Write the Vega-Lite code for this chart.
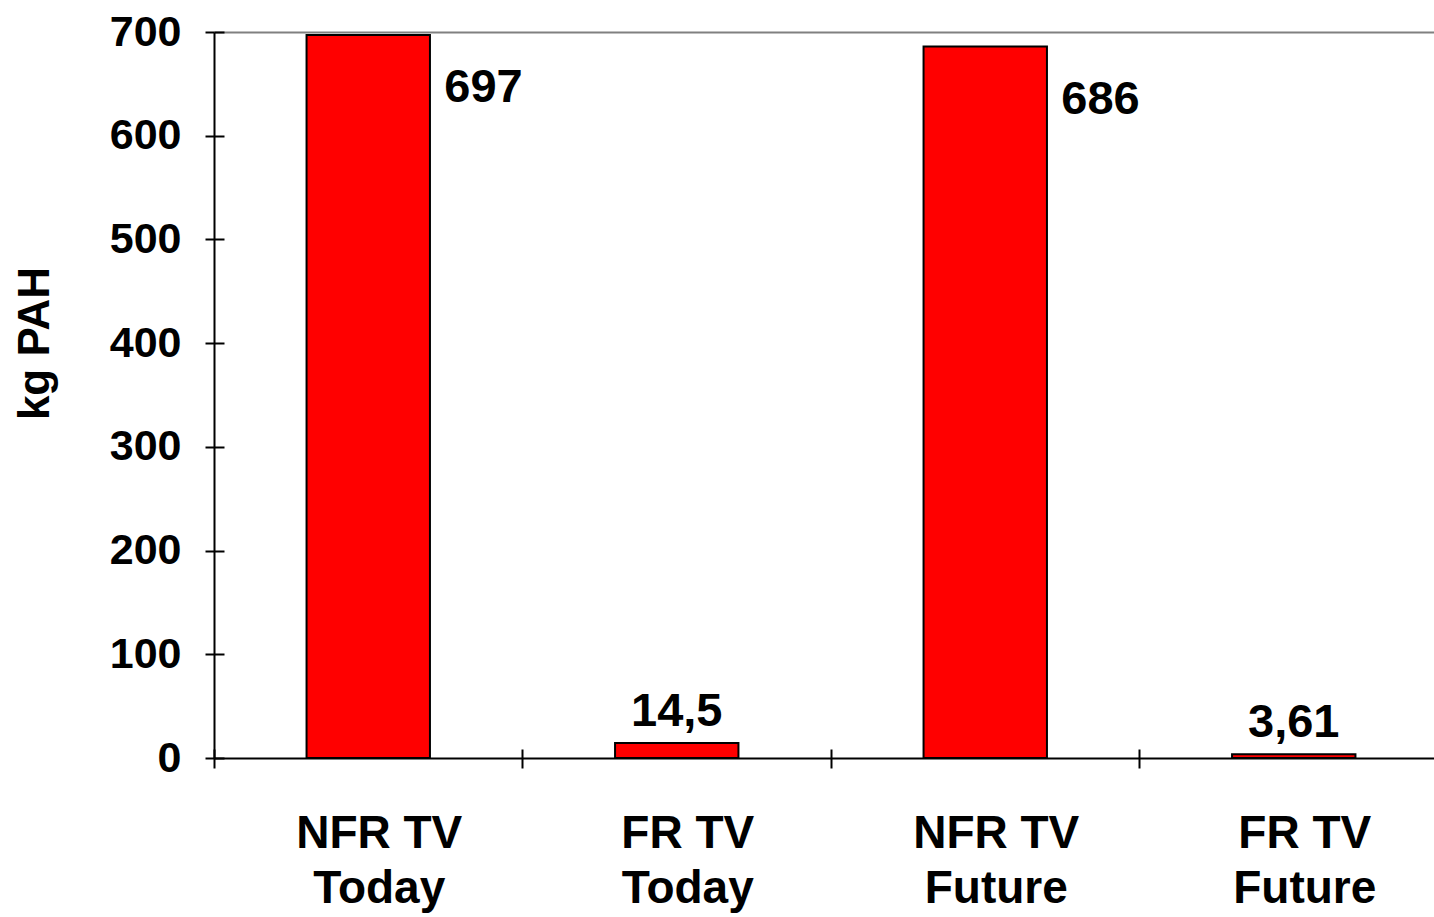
{
  "$schema": "https://vega.github.io/schema/vega-lite/v6.json",
  "width": 1220,
  "height": 726,
  "autosize": {"type": "none"},
  "padding": {"left": 214, "top": 32, "right": 0, "bottom": 159},
  "background": "white",
  "config": {"view": {"stroke": null}, "font": "Liberation Sans"},
  "data": {"values": [
    {"cat": "NFR TV|Today", "value": 697, "label": "697"},
    {"cat": "FR TV|Today", "value": 14.5, "label": "14,5"},
    {"cat": "NFR TV|Future", "value": 686, "label": "686"},
    {"cat": "FR TV|Future", "value": 3.61, "label": "3,61"}
  ]},
  "resolve": {"axis": {"x": "independent", "y": "independent"}},
  "layer": [
    {
      "mark": {"type": "bar", "color": "#FF0000", "stroke": "black", "strokeWidth": 2, "width": {"band": 0.4}},
      "encoding": {
        "x": {
          "field": "cat", "type": "nominal", "sort": null,
          "scale": {"range": [0, 1234], "paddingInner": 0, "paddingOuter": 0},
          "axis": {
            "orient": "bottom", "title": null, "ticks": false, "domain": true,
            "domainColor": "black", "domainWidth": 2,
            "labelExpr": "split(datum.value, '|')", "labelAngle": 0,
            "labelFont": "Liberation Sans", "labelFontWeight": "bold", "labelFontSize": 46,
            "labelColor": "black", "labelPadding": 53, "labelLineHeight": 55,
            "labelOffset": 11, "labelBaseline": "top"
          }
        },
        "y": {
          "field": "value", "type": "quantitative",
          "scale": {"domain": [0, 700], "nice": false},
          "axis": {
            "orient": "left", "values": [0, 100, 200, 300, 400, 500, 600, 700],
            "grid": false, "title": "kg PAH",
            "titleFont": "Liberation Sans", "titleFontSize": 44, "titleFontWeight": "bold",
            "titleColor": "black", "titlePadding": 52, "titleY": 311,
            "labelFont": "Liberation Sans", "labelFontSize": 43, "labelFontWeight": "bold",
            "labelColor": "black", "labelPadding": 24,
            "tickSize": 9, "tickWidth": 2, "tickColor": "black",
            "domainColor": "black", "domainWidth": 2
          }
        }
      }
    },
    {
      "transform": [{"filter": "datum.value > 100"}],
      "mark": {"type": "text", "align": "left", "baseline": "alphabetic", "dx": 76, "dy": 67,
        "font": "Liberation Sans", "fontSize": 47, "fontWeight": "bold", "color": "black"},
      "encoding": {
        "x": {
          "field": "cat", "type": "nominal", "sort": null,
          "axis": {
            "orient": "bottom", "title": null, "labels": false, "domain": false,
            "ticks": true, "tickSize": 10, "tickWidth": 2, "tickColor": "black", "bandPosition": 0
          }
        },
        "y": {
          "field": "value", "type": "quantitative",
          "axis": {
            "orient": "left", "values": [0, 100, 200, 300, 400, 500, 600, 700],
            "title": null, "labels": false, "domain": false, "grid": false,
            "ticks": true, "tickSize": -10, "tickWidth": 2, "tickColor": "black"
          }
        },
        "text": {"field": "label"}
      }
    },
    {
      "transform": [{"filter": "datum.value < 100"}],
      "mark": {"type": "text", "align": "center", "baseline": "alphabetic", "dy": -17,
        "font": "Liberation Sans", "fontSize": 47, "fontWeight": "bold", "color": "black"},
      "encoding": {
        "x": {
          "field": "cat", "type": "nominal", "sort": null,
          "axis": {
            "orient": "bottom", "title": null, "labels": false, "domain": false,
            "ticks": true, "tickSize": -9, "tickWidth": 2, "tickColor": "black", "bandPosition": 0
          }
        },
        "y": {
          "field": "value", "type": "quantitative",
          "axis": {
            "orient": "left", "values": [700], "title": null, "labels": false,
            "domain": false, "ticks": false, "grid": true,
            "gridColor": "#808080", "gridWidth": 2, "gridOpacity": 1
          }
        },
        "text": {"field": "label"}
      }
    }
  ]
}
